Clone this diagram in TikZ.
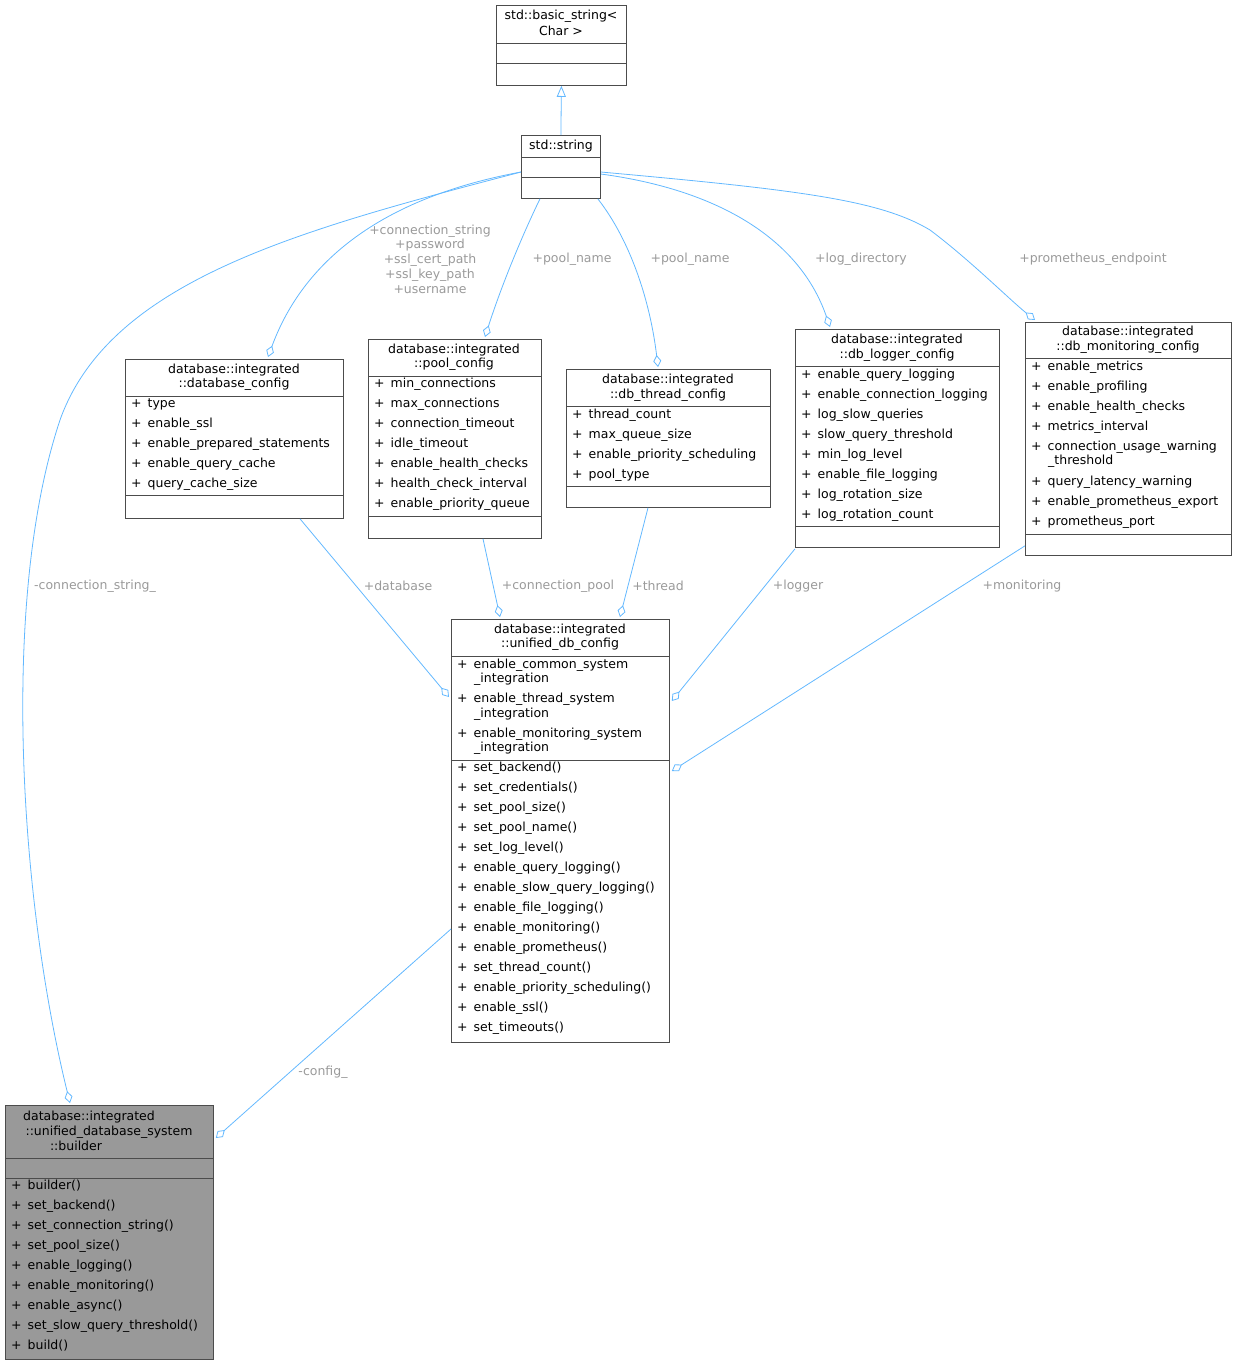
\documentclass[tikz,border=0pt]{standalone}
\usepackage{fontspec}
\setmainfont{DejaVu Sans}
\usetikzlibrary{arrows.meta}
\definecolor{edgeblue}{HTML}{63B8FF}
\definecolor{lblgray}{HTML}{9A9A9A}
\tikzset{
  box/.style={draw=black!70,line width=0.8pt,anchor=north west,inner sep=0pt},
  txt/.style={inner sep=0pt,font=\fontsize{12.5}{14}\selectfont},
  edge/.style={draw=edgeblue,line width=0.8pt},
  agg/.style={edge,-{Diamond[open,length=12pt,width=8pt]}},
  lbl/.style={txt,text=lblgray,align=center,font=\fontsize{12.5}{14.5}\selectfont}
}
\newcommand{\mem}[3]{\node[txt,anchor=west] at (#1,#2) {+\hspace{6pt}#3};}
\newcommand{\ttl}[3]{\node[txt] at (#1,#2) {#3};}
\newcommand{\sep}[3]{\draw[black!70,line width=0.8pt] (#1,#3) -- (#2,#3);}
\begin{document}
\begin{tikzpicture}[x=1pt,y=-1pt]
  \useasboundingbox (0,0) rectangle (1237,1365);
  % class boxes
  \node[box,minimum width=130pt,minimum height=80pt] (basic) at (496,5) {};
  \ttl{561}{16}{std::basic\_string<}
  \ttl{561}{31}{Char >}
  \sep{496}{626}{43} \sep{496}{626}{63}

  \node[box,minimum width=79pt,minimum height=63pt] (string) at (521,135) {};
  \ttl{561}{146}{std::string}
  \sep{521}{600}{157} \sep{521}{600}{177}

  \node[box,minimum width=218pt,minimum height=159pt] (dbcfg) at (125,359) {};
  \ttl{234}{370}{database::integrated}
  \ttl{234}{384}{::database\_config}
  \sep{125}{343}{396}
  \mem{131}{404}{type}
  \mem{131}{424}{enable\_ssl}
  \mem{131}{444}{enable\_prepared\_statements}
  \mem{131}{464}{enable\_query\_cache}
  \mem{131}{484}{query\_cache\_size}
  \sep{125}{343}{495}

  \node[box,minimum width=173pt,minimum height=199pt] (pool) at (368,339) {};
  \ttl{454}{350}{database::integrated}
  \ttl{454}{364}{::pool\_config}
  \sep{368}{541}{376}
  \foreach \t [count=\i from 0] in {min\_connections,max\_connections,connection\_timeout,idle\_timeout,enable\_health\_checks,health\_check\_interval,enable\_priority\_queue}
    {\mem{374}{384+20*\i}{\t}}
  \sep{368}{541}{516}

  \node[box,minimum width=204pt,minimum height=138pt] (thread) at (566,369) {};
  \ttl{668}{380}{database::integrated}
  \ttl{668}{395}{::db\_thread\_config}
  \sep{566}{770}{406}
  \foreach \t [count=\i from 0] in {thread\_count,max\_queue\_size,enable\_priority\_scheduling,pool\_type}
    {\mem{572}{415+20*\i}{\t}}
  \sep{566}{770}{486}

  \node[box,minimum width=204pt,minimum height=218pt] (logger) at (795,329) {};
  \ttl{897}{340}{database::integrated}
  \ttl{897}{355}{::db\_logger\_config}
  \sep{795}{999}{366}
  \foreach \t [count=\i from 0] in {enable\_query\_logging,enable\_connection\_logging,log\_slow\_queries,slow\_query\_threshold,min\_log\_level,enable\_file\_logging,log\_rotation\_size,log\_rotation\_count}
    {\mem{801}{375+20*\i}{\t}}
  \sep{795}{999}{526}

  \node[box,minimum width=206pt,minimum height=233pt] (monitor) at (1025,322) {};
  \ttl{1128}{332}{database::integrated}
  \ttl{1128}{347}{::db\_monitoring\_config}
  \sep{1025}{1231}{358}
  \mem{1031}{367}{enable\_metrics}
  \mem{1031}{387}{enable\_profiling}
  \mem{1031}{407}{enable\_health\_checks}
  \mem{1031}{427}{metrics\_interval}
  \mem{1031}{447}{connection\_usage\_warning}
  \node[txt,anchor=west] at (1048,461) {\_threshold};
  \mem{1031}{482}{query\_latency\_warning}
  \mem{1031}{502}{enable\_prometheus\_export}
  \mem{1031}{522}{prometheus\_port}
  \sep{1025}{1231}{534}

  \node[box,minimum width=218pt,minimum height=423pt] (unified) at (451,619) {};
  \ttl{560}{630}{database::integrated}
  \ttl{560}{644}{::unified\_db\_config}
  \sep{451}{669}{656}
  \mem{457}{665}{enable\_common\_system}
  \node[txt,anchor=west] at (474,679) {\_integration};
  \mem{457}{699}{enable\_thread\_system}
  \node[txt,anchor=west] at (474,714) {\_integration};
  \mem{457}{734}{enable\_monitoring\_system}
  \node[txt,anchor=west] at (474,748) {\_integration};
  \sep{451}{669}{760}
  \foreach \t [count=\i from 0] in {set\_backend(),set\_credentials(),set\_pool\_size(),set\_pool\_name(),set\_log\_level(),enable\_query\_logging(),enable\_slow\_query\_logging(),enable\_file\_logging(),enable\_monitoring(),enable\_prometheus(),set\_thread\_count(),enable\_priority\_scheduling(),enable\_ssl(),set\_timeouts()}
    {\mem{457}{768+20*\i}{\t}}

  \node[box,fill=black!40,minimum width=208pt,minimum height=254pt] (builder) at (5,1105) {};
  \ttl{89}{1117}{database::integrated}
  \ttl{109}{1132}{::unified\_database\_system}
  \ttl{76}{1146}{::builder}
  \sep{5}{213}{1158} \sep{5}{213}{1178}
  \foreach \t [count=\i from 0] in {builder(),set\_backend(),set\_connection\_string(),set\_pool\_size(),enable\_logging(),enable\_monitoring(),enable\_async(),set\_slow\_query\_threshold(),build()}
    {\mem{11}{1186+20*\i}{\t}}

  % relations
  \draw[edge,-{Triangle[open,length=11pt,width=9pt]}] (string.north) -- (basic.south);
  \draw[agg] ([shift={(0,37)}]string.north west) .. controls (300,230) and (110,280) .. (60,420)
    .. controls (0,600) and (20,900) .. ([shift={(65,-2)}]builder.north west);
  \draw[agg] ([shift={(0,37)}]string.north west) .. controls (370,200) and (300,270) .. ([shift={(143,-2)}]dbcfg.north west);
  \draw[agg] ([shift={(19,0)}]string.south west) .. controls (520,240) and (500,290) .. ([shift={(117,-2)}]pool.north west);
  \draw[agg] ([shift={(-3,0)}]string.south east) .. controls (630,240) and (650,300) .. ([shift={(92,-2)}]thread.north west);
  \draw[agg] ([shift={(0,39)}]string.north east) .. controls (720,190) and (800,240) .. ([shift={(35,-2)}]logger.north west);
  \draw[agg] ([shift={(0,37)}]string.north east) .. controls (800,190) and (880,200) .. (930,230)
    .. controls (970,260) and (1010,300) .. ([shift={(10,-2)}]monitor.north west);
  \draw[agg] ([shift={(175,0)}]dbcfg.south west) -- ([shift={(-2,78)}]unified.north west);
  \draw[agg] ([shift={(115,0)}]pool.south west) -- ([shift={(49,-2)}]unified.north west);
  \draw[agg] ([shift={(82,0)}]thread.south west) -- ([shift={(169,-2)}]unified.north west);
  \draw[agg] ([shift={(0,1)}]logger.south west) -- ([shift={(2,82)}]unified.north east);
  \draw[agg] ([shift={(0,-10)}]monitor.south west) -- ([shift={(2,152)}]unified.north east);
  \draw[agg] ([shift={(0,310)}]unified.north west) -- ([shift={(2,33)}]builder.north east);

  % labels
  \node[lbl] (l1) at (95,586) {-connection\_string\_};
  \node[lbl,font=\fontsize{12.5}{14.7}\selectfont] (l2) at (430,259) {+connection\_string\\+password\\+ssl\_cert\_path\\+ssl\_key\_path\\+username};
  \node[lbl] (l3) at (572,259) {+pool\_name};
  \node[lbl] (l4) at (690,259) {+pool\_name};
  \node[lbl] (l5) at (861,259) {+log\_directory};
  \node[lbl] (l6) at (1093,259) {+prometheus\_endpoint};
  \node[lbl] (l7) at (398,586) {+database};
  \node[lbl] (l8) at (558,586) {+connection\_pool};
  \node[lbl] (l9) at (658,586) {+thread};
  \node[lbl] (l10) at (798,586) {+logger};
  \node[lbl] (l11) at (1022,586) {+monitoring};
  \node[lbl] (l12) at (323,1072) {-config\_};
\end{tikzpicture}
\end{document}
